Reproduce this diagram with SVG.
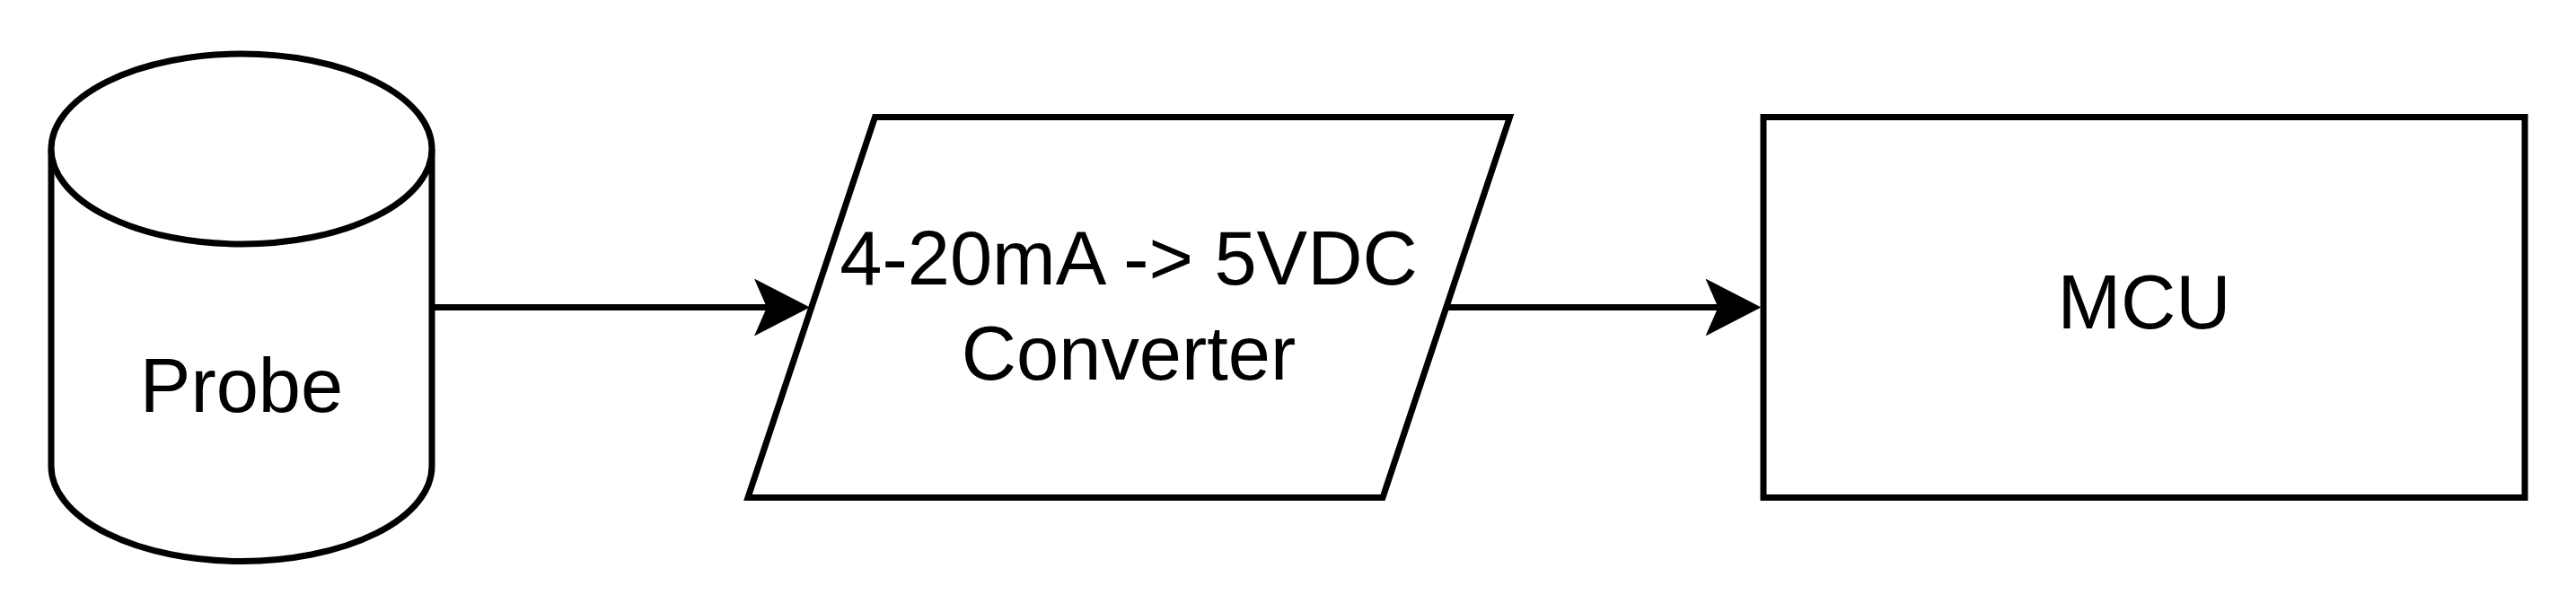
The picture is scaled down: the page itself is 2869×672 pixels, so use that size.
<svg xmlns="http://www.w3.org/2000/svg" width="2869" height="672" viewBox="0 0 2869 672">
  <style>
    .shape { fill: #ffffff; stroke: #000000; stroke-width: 7; stroke-linejoin: miter; }
    .label { font-family: "Liberation Sans", Arial, Helvetica, sans-serif; font-size: 84.8px; fill: #000000; text-anchor: middle; }
    .edge { fill: none; stroke: #000000; stroke-width: 7; }
  </style>
  <defs>
    <marker id="arrow" markerUnits="userSpaceOnUse" viewBox="-62 -32 62 64" markerWidth="62" markerHeight="64" refX="-48" refY="0" orient="auto">
      <path d="M0,0 L-62,-32 L-48,0 L-62,32 Z" fill="#000000"/>
    </marker>
  </defs>
  <rect width="2869" height="672" fill="#ffffff"/>
  <g id="probe">
    <path class="shape" d="M57,166 A212,106 0 0 1 481,166 L481,519.5 A212,106 0 0 1 57,519.5 Z"/>
    <path class="shape" fill="none" d="M57,166 A212,106 0 0 0 481,166"/>
    <text class="label" x="269" y="459">Probe</text>
  </g>
  <g id="converter">
    <polygon class="shape" points="974.5,130.5 1681.5,130.5 1540,554.5 833,554.5"/>
    <text class="label" x="1257" y="317">4-20mA -&gt; 5VDC</text>
    <text class="label" x="1257" y="423">Converter</text>
  </g>
  <g id="mcu">
    <rect class="shape" x="1964" y="130.5" width="848" height="424"/>
    <text class="label" x="2388" y="366">MCU</text>
  </g>
  <g id="connectors">
    <path class="edge" d="M481,342.5 L854,342.5" marker-end="url(#arrow)"/>
    <path class="edge" d="M1611,342.5 L1913.5,342.5" marker-end="url(#arrow)"/>
  </g>
</svg>
